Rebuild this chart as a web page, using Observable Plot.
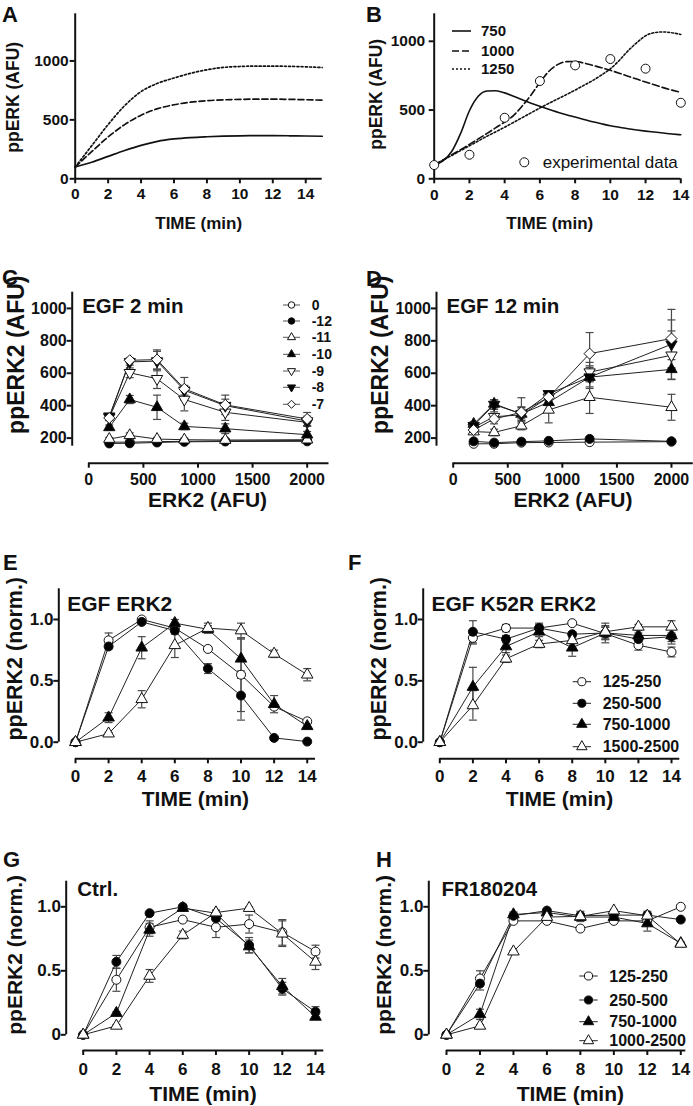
<!DOCTYPE html>
<html><head><meta charset="utf-8">
<script src="https://cdn.jsdelivr.net/npm/d3@7"></script>
<script src="https://cdn.jsdelivr.net/npm/@observablehq/plot@0.6"></script>
<style>
body{margin:0;background:#fff;}
#fig{position:relative;width:693px;height:1106px;overflow:hidden;background:#fff;font-family:"Liberation Sans",Arial,Helvetica,sans-serif;}
.panel{position:absolute;}
.panel svg{overflow:visible;}
#overlay{position:absolute;left:0;top:0;pointer-events:none;}
</style></head><body><div id="fig"></div>
<script>
// ---------- DATA ----------
// Panel A: model simulations (ppERK, AFU) vs time (min)
const timeA = [0,1,2,3,4,5,6,7,8,9,10,11,12,13,14,15];
const aSolid  = [100,140,190,240,284,318,338,350,357,362,365,366,366,365,363,361];
const aDashed = [100,230,355,460,540,595,628,650,663,670,674,676,676,674,671,667];
const aDotted = [100,280,460,620,740,810,855,895,925,945,953,956,956,954,950,944];

// Panel B: model curves for ERK2 750 / 1000 / 1250 and experimental data
const timeB = [0,0.5,1,1.5,2,2.5,3,3.5,4,4.5,5,5.5,6,6.5,7,7.5,8,8.5,9,9.5,10,10.5,11,11.5,12,12.5,13,13.5,14];
const b750  = [100,130,200,330,495,600,638,640,625,600,575,550,527,505,485,466,449,432,415,400,386,375,364,355,347,340,333,326,320];
const b1000 = [100,138,175,212,250,290,330,372,413,460,530,610,700,780,830,852,853,842,825,808,789,768,746,725,704,684,663,645,628];
const b1250 = [100,135,170,205,240,275,310,342,375,410,445,480,515,548,580,612,645,680,715,755,800,860,930,990,1040,1063,1068,1062,1050];
const bSeries = ["750","1000","1250"];
const expTime = [0,2,4,6,8,10,12,14];
const expData = [100,175,444,711,825,871,801,553];

// Panels C, D: ppERK2 vs ERK2 for EGF doses (log M)
const erk2Level = [187.5,375,625,875,1250,2000];
const doses = ["0","-12","-11","-10","-9","-8","-7"];
const egf2Values = [
  [175,175,178,180,183,185],
  [167,168,173,177,179,180],
  [194,217,194,190,188,190],
  [266,438,390,272,258,221],
  [328,603,566,438,359,297],
  [335,670,675,495,400,305],
  [324,680,684,504,405,318]];
const egf2Errors = [
  [5,5,5,5,5,8],
  [5,5,5,5,5,5],
  [10,15,10,10,10,10],
  [15,25,75,20,30,20],
  [20,30,60,70,50,25],
  [15,20,60,30,40,30],
  [15,15,60,70,60,40]];
const egf12Values = [
  [165,165,172,173,175,178],
  [180,172,178,183,195,180],
  [240,235,276,374,452,390],
  [287,411,349,421,576,624],
  [266,332,343,452,607,711],
  [276,407,349,473,576,779],
  [250,318,359,452,721,814]];
const egf12Errors = [
  [5,5,5,5,5,5],
  [5,5,5,5,5,5],
  [10,20,25,80,100,80],
  [15,25,40,20,70,60],
  [15,30,50,20,60,150],
  [15,30,30,20,60,150],
  [15,30,90,30,130,180]];

// Panels E-H: normalised time courses
const timeMin = [0,2,4,6,8,10,12,14];
const groupsEF = ["125-250","250-500","750-1000","1500-2500"];
const groupsGH = ["125-250","250-500","750-1000","1000-2500"];
const egfErk2Values = [
  [0,0.83,1.0,0.93,0.76,0.55,0.29,0.17],
  [0,0.78,0.98,0.91,0.60,0.38,0.035,0.005],
  [0,0.20,0.77,0.97,0.92,0.68,0.31,0.13],
  [0,0.07,0.35,0.79,0.93,0.91,0.72,0.55]];
const egfErk2Errors = [
  [0,0.06,0.01,0.03,0.02,0.30,0.02,0.01],
  [0,0.02,0.01,0.03,0.04,0.20,0.01,0.01],
  [0,0.04,0.09,0.03,0.03,0.16,0.07,0.02],
  [0,0.01,0.07,0.10,0.04,0.06,0.03,0.05]];
const k52rValues = [
  [0,0.85,0.93,0.93,0.97,0.885,0.79,0.735],
  [0,0.90,0.84,0.93,0.88,0.89,0.84,0.86],
  [0,0.45,0.78,0.90,0.77,0.89,0.87,0.87],
  [0,0.30,0.68,0.80,0.83,0.90,0.94,0.94]];
const k52rErrors = [
  [0,0.05,0.03,0.03,0.01,0.05,0.04,0.04],
  [0,0.09,0.03,0.04,0.02,0.08,0.05,0.06],
  [0,0.16,0.05,0.04,0.07,0.05,0.04,0.05],
  [0,0.12,0.03,0.03,0.02,0.05,0.02,0.05]];
const ctrlValues = [
  [0,0.43,0.84,0.90,0.84,0.865,0.80,0.65],
  [0,0.57,0.95,1.0,0.91,0.70,0.36,0.18],
  [0,0.17,0.82,0.99,0.95,0.69,0.38,0.14],
  [0,0.07,0.46,0.78,0.955,0.99,0.79,0.57]];
const ctrlErrors = [
  [0,0.09,0.05,0.01,0.08,0.07,0.10,0.05],
  [0,0.05,0.01,0.01,0.02,0.06,0.05,0.04],
  [0,0.01,0.05,0.01,0.02,0.05,0.06,0.02],
  [0,0.01,0.05,0.03,0.02,0.01,0.10,0.06]];
const frValues = [
  [0,0.44,0.89,0.89,0.83,0.89,0.89,1.0],
  [0,0.40,0.93,0.97,0.93,0.935,0.935,0.90],
  [0,0.16,0.94,0.955,0.92,0.92,0.87,0.715],
  [0,0.07,0.65,0.92,0.925,0.97,0.93,0.71]];
const frErrors = [
  [0,0.06,0.01,0.01,0.01,0.01,0.01,0.01],
  [0,0.05,0.02,0.01,0.02,0.02,0.03,0.01],
  [0,0.04,0.02,0.01,0.02,0.02,0.06,0.01],
  [0,0.01,0.01,0.02,0.04,0.01,0.02,0.01]];

const timeTicks = [0,2,4,6,8,10,12,14];

// ---------- STYLE / HELPERS ----------
const FONT = '"Liberation Sans", Arial, Helvetica, sans-serif';
const fig = document.getElementById("fig");
const s3 = Math.sqrt(3);
const triDown = {draw(ctx, size){ const y = -Math.sqrt(size/(s3*3)); ctx.moveTo(0,-2*y); ctx.lineTo(-s3*y, y); ctx.lineTo(s3*y, y); ctx.closePath(); }};
const hline = {draw(ctx, size){ const r = Math.sqrt(size/Math.PI); ctx.moveTo(-r,0); ctx.lineTo(r,0); }};
const symCircle = d3.symbolCircle, symTri = d3.symbolTriangle, symDiamond = d3.symbolDiamond2;

const doseStyles = [
  {symbol: symCircle, fill: "white", r: 4.5},
  {symbol: symCircle, fill: "black", r: 4.5},
  {symbol: symTri, fill: "white", r: 4.2},
  {symbol: symTri, fill: "black", r: 4.2},
  {symbol: triDown, fill: "white", r: 4.2},
  {symbol: triDown, fill: "black", r: 4.2},
  {symbol: symDiamond, fill: "white", r: 5}];
const groupStyles = [
  {symbol: symCircle, fill: "white", r: 4.5},
  {symbol: symCircle, fill: "black", r: 4.5},
  {symbol: symTri, fill: "black", r: 4.3},
  {symbol: symTri, fill: "white", r: 4.3}];

function place(node, left, top){
  const d = document.createElement("div");
  d.className = "panel"; d.style.left = left + "px"; d.style.top = top + "px";
  d.appendChild(node); fig.appendChild(d);
}

function seriesMarks(xs, values, errors, styles){
  const sets = values.map((vals, i) => xs.map((x, j) => ({x, y: vals[j], e: errors[i][j]})));
  const out = [];
  sets.forEach(s => {
    const eb = s.filter(d => d.e > 0);
    out.push(Plot.ruleX(eb, {x: "x", y1: d => d.y - d.e, y2: d => d.y + d.e, stroke: "#4a4a4a", strokeWidth: 1.2}));
    out.push(Plot.dot(eb, {x: "x", y: d => d.y + d.e, symbol: hline, r: 4, stroke: "#4a4a4a", strokeWidth: 1.2, fill: "none"}));
    out.push(Plot.dot(eb, {x: "x", y: d => d.y - d.e, symbol: hline, r: 4, stroke: "#4a4a4a", strokeWidth: 1.2, fill: "none"}));
  });
  sets.forEach(s => out.push(Plot.line(s, {x: "x", y: "y", stroke: "#222", strokeWidth: 1})));
  sets.forEach((s, i) => out.push(Plot.dot(s, {x: "x", y: "y", symbol: styles[i].symbol, r: styles[i].r, fill: styles[i].fill, stroke: "#111", strokeWidth: 1})));
  return out;
}

function makePanel(c){
  const insetL = c.insetL || 0, insetB = c.insetB || 0;
  const marks = [
    Plot.ruleX([c.xDomain[0]], {y1: c.yDomain[0], y2: c.yDomain[1], dx: -insetL, strokeWidth: 2, stroke: "#111"}),
    Plot.ruleY([c.yDomain[0]], {x1: c.xDomain[0], x2: c.xDomain[1], dy: insetB, strokeWidth: 2, stroke: "#111"}),
    Plot.axisX({ticks: c.xTicks, tickFormat: c.xFmt || (d => String(d)), tickSize: 5, tickPadding: c.xPad, strokeWidth: 2, fontSize: c.tickFont, fontWeight: "bold", label: null}),
    Plot.axisY({ticks: c.yTicks, tickFormat: c.yFmt || (d => String(d)), tickSize: 5, tickPadding: c.yPad, strokeWidth: 2, fontSize: c.tickFont, fontWeight: "bold", label: null}),
    Plot.text([c.xTitle], {text: d => d, frameAnchor: "bottom", textAnchor: "middle", lineAnchor: "middle", dx: c.xtDx, dy: c.xtDy, fontSize: c.xTitleFont, fontWeight: "bold", fill: "#111"}),
    Plot.text([c.yTitle], {text: d => d, frameAnchor: "left", textAnchor: "middle", lineAnchor: "middle", dx: c.ytDx, dy: c.ytDy, rotate: -90, fontSize: c.yTitleFont, fontWeight: "bold", fill: "#111"})
  ];
  if (c.inner) marks.push(Plot.text([c.inner], {text: d => d, frameAnchor: "top-left", textAnchor: "start", lineAnchor: "middle", dx: c.inDx, dy: c.inDy, fontSize: c.innerFont, fontWeight: "bold", fill: "#111"}));
  return Plot.plot({
    width: c.width, height: c.height,
    marginTop: c.mt, marginRight: c.mr, marginBottom: c.mb, marginLeft: c.ml,
    x: {domain: c.xDomain, insetLeft: insetL},
    y: {domain: c.yDomain, insetBottom: insetB},
    style: {fontFamily: FONT, background: "transparent", color: "#111", overflow: "visible"},
    marks: [...marks, ...c.marks]
  });
}

// ---------- PANEL A ----------
const rowsA = (vals) => timeA.map((t, i) => ({t, v: vals[i]}));
place(makePanel({
  width: 346, height: 240, mt: 13.3, mr: 24.3, mb: 61.7, ml: 74.7,
  xDomain: [0, 15], yDomain: [0, 1400], xTicks: timeTicks, yTicks: [0, 500, 1000],
  tickFont: 15.5, xPad: 4.5, yPad: 1.5,
  xTitle: "TIME (min)", xtDx: 0, xtDy: 44.7, xTitleFont: 17,
  yTitle: "ppERK (AFU)", ytDx: -61.7, ytDy: 1, yTitleFont: 17.5,
  marks: [
    Plot.line(rowsA(aSolid), {x: "t", y: "v", curve: "monotone-x", stroke: "#111", strokeWidth: 1.7}),
    Plot.line(rowsA(aDashed), {x: "t", y: "v", curve: "monotone-x", stroke: "#111", strokeWidth: 1.7, strokeDasharray: "6,3"}),
    Plot.line(rowsA(aDotted), {x: "t", y: "v", curve: "monotone-x", stroke: "#111", strokeWidth: 1.7, strokeDasharray: "2,2.2"})
  ]
}), 0, 0);

// ---------- PANEL B ----------
const rowsB = (vals) => timeB.map((t, i) => ({t, v: vals[i]}));
const bDash = [null, "7,3", "2,2"];
place(makePanel({
  width: 347, height: 240, mt: 13.3, mr: 12.7, mb: 61.7, ml: 87.7,
  xDomain: [0, 14], yDomain: [0, 1200], xTicks: timeTicks, yTicks: [0, 500, 1000],
  tickFont: 15.5, xPad: 5, yPad: 4,
  xTitle: "TIME (min)", xtDx: -7.7, xtDy: 45, xTitleFont: 17,
  yTitle: "ppERK (AFU)", ytDx: -57.7, ytDy: -2, yTitleFont: 17.5,
  marks: [
    ...[b750, b1000, b1250].map((vals, i) => Plot.line(rowsB(vals), {x: "t", y: "v", curve: "monotone-x", stroke: "#111", strokeWidth: 1.6, strokeDasharray: bDash[i]})),
    Plot.dot(expTime.map((t, i) => ({t, v: expData[i]})), {x: "t", y: "v", r: 4.5, fill: "white", stroke: "#111", strokeWidth: 1})
  ]
}), 346, 0);

// ---------- PANEL C ----------
const cdCommon = {
  height: 250, mt: 29.7, mb: 49.3, insetB: 17,
  xDomain: [0, 2200], yDomain: [150, 1100], xTicks: [0, 500, 1000, 1500, 2000], yTicks: [200, 400, 600, 800, 1000],
  tickFont: 16, xPad: 5.5, yPad: 0.5,
  xTitle: "ERK2 (AFU)", xtDy: 37.3, xTitleFont: 21,
  yTitle: "ppERK2 (AFU)", ytDy: -23, yTitleFont: 23, innerFont: 20.5, inDy: 14.3
};
place(makePanel({...cdCommon,
  width: 346, mr: 17.5, ml: 71.7, insetL: 16.6, xtDx: 7, ytDx: -56,
  inner: "EGF 2 min", inDx: 10,
  marks: seriesMarks(erk2Level, egf2Values, egf2Errors, doseStyles)
}), 0, 262);

// ---------- PANEL D ----------
place(makePanel({...cdCommon,
  width: 347, mr: 0.2, ml: 90, insetL: 16.7, xtDx: 8, ytDx: -56,
  inner: "EGF 12 min", inDx: 10,
  marks: seriesMarks(erk2Level, egf12Values, egf12Errors, doseStyles)
}), 346, 262);

// ---------- PANELS E, F ----------
const efCommon = {
  height: 270, mt: 48.3, mb: 51.7, insetB: 16.6,
  xDomain: [0, 14.5], yDomain: [0, 1.25], xTicks: timeTicks, yTicks: [0, 0.5, 1.0], yFmt: d => d.toFixed(1),
  tickFont: 17, xPad: 6.5, yPad: 0.3,
  xTitle: "TIME (min)", xtDy: 40, xTitleFont: 21,
  yTitle: "ppERK2 (norm.)", ytDy: -15, yTitleFont: 21.5, innerFont: 21, inDy: 15
};
place(makePanel({...efCommon,
  width: 346, mr: 31, ml: 58.3, insetL: 16.7, xtDx: 8.3, ytDx: -43.3,
  inner: "EGF ERK2", inDx: 8.4,
  marks: seriesMarks(timeMin, egfErk2Values, egfErk2Errors, groupStyles)
}), 0, 540);
place(makePanel({...efCommon,
  width: 347, mr: 13.7, ml: 76.7, insetL: 16.6, xtDx: 8, ytDx: -43.7,
  inner: "EGF K52R ERK2", inDx: 8.3,
  marks: seriesMarks(timeMin, k52rValues, k52rErrors, groupStyles)
}), 346, 540);

// ---------- PANELS G, H ----------
const ghCommon = {
  height: 286, mt: 60.7, mb: 56, insetB: 15.7,
  yDomain: [0, 1.2], xTicks: timeTicks, yTicks: [0, 0.5, 1.0], yFmt: d => d === 0 ? "0" : d.toFixed(1),
  tickFont: 17, xPad: 7, yPad: 0.3,
  xTitle: "TIME (min)", xtDy: 43.3, xTitleFont: 21,
  yTitle: "ppERK2 (norm.)", ytDy: -11, yTitleFont: 21, innerFont: 20.5, inDy: 8.6
};
place(makePanel({...ghCommon,
  width: 346, mr: 22.7, ml: 65.7, insetL: 17, xDomain: [0, 14.5], xtDx: 8, ytDx: -50.7,
  inner: "Ctrl.", inDx: 11,
  marks: seriesMarks(timeMin, ctrlValues, ctrlErrors, groupStyles)
}), 0, 820);
place(makePanel({...ghCommon,
  width: 347, mr: 7.7, ml: 82.3, insetL: 17.7, xDomain: [0, 14.3], xtDx: 13, ytDx: -44.8,
  inner: "FR180204", inDx: 12.7,
  marks: seriesMarks(timeMin, frValues, frErrors, groupStyles)
}), 346, 820);

// ---------- OVERLAY: panel letters and legends ----------
const ov = d3.select(fig).append("svg").attr("id", "overlay").attr("width", 693).attr("height", 1106)
  .style("font-family", FONT);
const letters = [["A",2,21.7],["B",366,21.7],["C",2,285],["D",366,286],["E",3,570],["F",348,570],["G",3,867],["H",376,867]];
ov.selectAll("text.letter").data(letters).join("text").attr("class","letter")
  .attr("x", d => d[1]).attr("y", d => d[2]).attr("font-size", 22).attr("font-weight", "bold").attr("fill", "#111").text(d => d[0]);

function legend(names, styles, rowsY, x1, x2, tx, fontSize, rScale, lineColor){
  const g = ov.append("g");
  names.forEach((n, i) => {
    const y = rowsY[i];
    g.append("line").attr("x1", x1).attr("x2", x2).attr("y1", y).attr("y2", y).attr("stroke", lineColor).attr("stroke-width", 1);
    const st = styles[i];
    const size = Math.PI * (st.r * rScale) ** 2;
    g.append("path").attr("d", d3.symbol(st.symbol, size)()).attr("transform", `translate(${(x1 + x2) / 2},${y})`)
      .attr("fill", st.fill).attr("stroke", "#111").attr("stroke-width", 1);
    g.append("text").attr("x", tx).attr("y", y).attr("dy", "0.36em").attr("font-size", fontSize).attr("font-weight", "bold").attr("fill", "#111").text(n);
  });
}
// B legend (line styles)
bSeries.forEach((n, i) => {
  const y = [31, 51, 69][i];
  const l = ov.append("line").attr("x1", 452).attr("x2", 471).attr("y1", y).attr("y2", y).attr("stroke", "#111").attr("stroke-width", 1.6);
  if (bDash[i]) l.attr("stroke-dasharray", bDash[i]);
  ov.append("text").attr("x", 481).attr("y", y).attr("dy", "0.36em").attr("font-size", 15).attr("font-weight", "bold").attr("fill", "#111").text(n);
});
ov.append("circle").attr("cx", 524.3).attr("cy", 162.3).attr("r", 4.5).attr("fill", "white").attr("stroke", "#111");
ov.append("text").attr("x", 542.7).attr("y", 162.3).attr("dy", "0.36em").attr("font-size", 17).attr("fill", "#111").text("experimental data");
// C legend
legend(doses, doseStyles, [305, 321, 337.3, 354.3, 371, 387.3, 404.3], 283, 300, 311.7, 14, 0.72, "#555");
// F legend
legend(groupsEF, groupStyles, [681.7, 703.3, 724.3, 746.7], 572.7, 591, 602.7, 16, 0.9, "#222");
// H legend
legend(groupsGH, groupStyles, [976, 1000, 1021.7, 1040.7], 579.3, 597.7, 609.3, 16, 0.9, "#222");
</script></body></html>
